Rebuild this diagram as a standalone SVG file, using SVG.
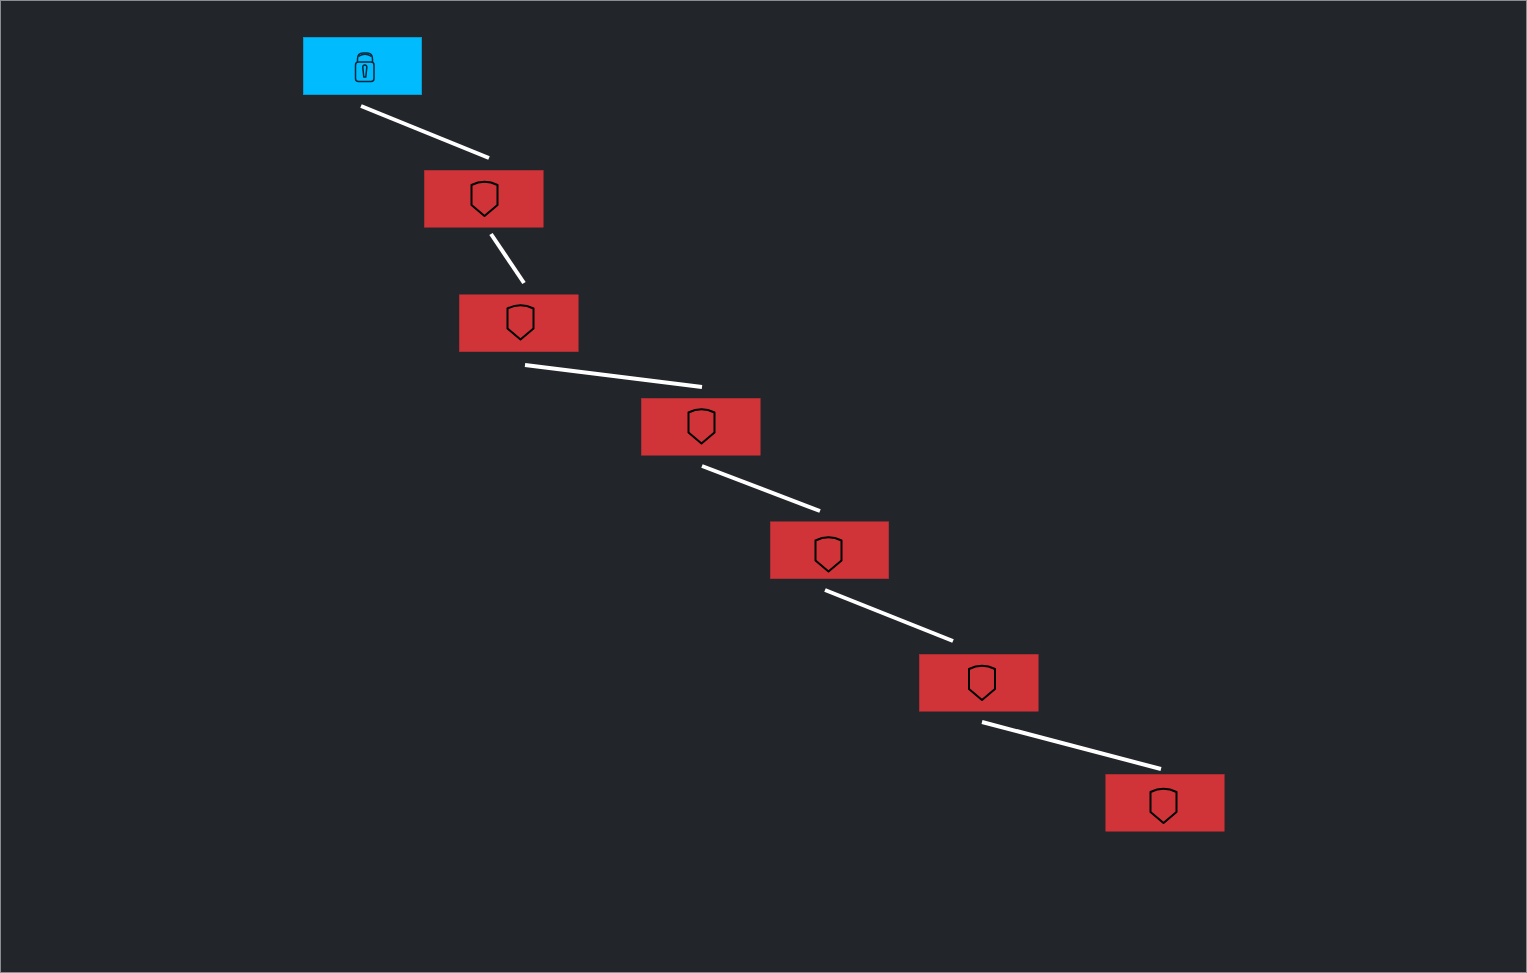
<svg xmlns="http://www.w3.org/2000/svg" width="1527" height="973" viewBox="0 0 1527 973">
<style>
.box{fill:#d13438;stroke:#b02e32;stroke-width:.5}
.lockbox{fill:#00bcff;stroke:#0a9fd6;stroke-width:.5}
.ic{fill:none;stroke:#000;stroke-width:2;stroke-linejoin:round}
.lk{fill:none;stroke:#06283a;stroke-width:1.5}
#connectors line{stroke:#fff;stroke-width:4}
</style>
<defs>
<path id="shield" class="ic" d="M-13-11.500Q0-18 13-11.500V8.500L0 19.500-13 8.500Z"/>
</defs>
<rect x=".5" y=".5" width="1526" height="972" fill="#22252a" stroke="#8a8d91" stroke-width="1"/>
<g id="connectors">
<line x1="361" y1="106" x2="489" y2="158"/>
<line x1="491" y1="234" x2="524" y2="283"/>
<line x1="525" y1="365" x2="702" y2="387"/>
<line x1="702" y1="466" x2="820" y2="511"/>
<line x1="825" y1="590" x2="953" y2="641"/>
<line x1="982" y1="722" x2="1161" y2="769"/>
</g>
<g id="node-lock">
<rect class="lockbox" x="303.250" y="37.250" width="118.500" height="57.500"/>
<path class="lk" d="M357.500 62V59Q357.500 53 363 53H367Q372.500 53 372.500 59V62"/>
<path class="lk" d="M358.500 56.500Q365 52 371.500 56.500" stroke-width="2"/>
<rect class="lk" x="355.500" y="62" width="18.500" height="19.500" rx="3"/>
<path class="lk" d="M364.800 65a2 2 0 0 1 2 2.500L365.800 77H363.800L362.800 67.500A2 2 0 0 1 364.800 65Z"/>
</g>
<g id="node-1"><rect class="box" x="424.250" y="170.250" width="119" height="57"/><use href="#shield" x="484.500" y="196.500"/></g>
<g id="node-2"><rect class="box" x="459.250" y="294.750" width="119" height="57"/><use href="#shield" x="520.500" y="320"/></g>
<g id="node-3"><rect class="box" x="641.250" y="398.250" width="119" height="57"/><use href="#shield" x="701.500" y="424"/></g>
<g id="node-4"><rect class="box" x="770.250" y="521.750" width="118.500" height="57"/><use href="#shield" x="828.500" y="552"/></g>
<g id="node-5"><rect class="box" x="919.250" y="654.250" width="119" height="57"/><use href="#shield" x="982" y="680.500"/></g>
<g id="node-6"><rect class="box" x="1105.750" y="774.250" width="118.500" height="57"/><use href="#shield" x="1163.500" y="803.500"/></g>
</svg>
